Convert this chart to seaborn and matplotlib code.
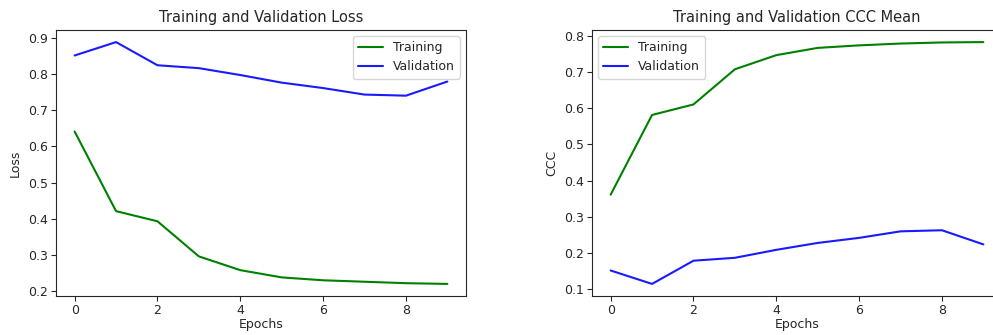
import pandas as pd
import seaborn as sns
import matplotlib.pyplot as plt

sns.set_style("ticks")
plt.rcParams["font.family"] = ["DejaVu Sans"]
plt.rcParams["font.size"] = 8

epochs = list(range(10))
loss_train = [0.641, 0.421, 0.393, 0.296, 0.258, 0.238, 0.230, 0.226, 0.222, 0.220]
loss_val = [0.851, 0.888, 0.824, 0.816, 0.797, 0.776, 0.761, 0.743, 0.740, 0.779]
ccc_train = [0.361, 0.581, 0.610, 0.707, 0.746, 0.766, 0.773, 0.778, 0.781, 0.782]
ccc_val = [0.152, 0.115, 0.179, 0.187, 0.209, 0.228, 0.242, 0.260, 0.263, 0.224]

palette = {"Training": "green", "Validation": "#1a1aff"}


def long_df(train, val):
    return pd.DataFrame({
        "epoch": epochs + epochs,
        "value": train + val,
        "split": ["Training"] * len(train) + ["Validation"] * len(val),
    })


W, H = 993, 335
fig = plt.figure(figsize=(W / 100, H / 100), dpi=100)
ax1 = fig.add_axes([56 / W, 39 / H, 410 / W, 266 / H])
ax2 = fig.add_axes([592 / W, 39 / H, 410 / W, 266 / H])

sns.lineplot(long_df(loss_train, loss_val), x="epoch", y="value", hue="split",
             palette=palette, linewidth=1.5, ax=ax1)
ax1.set(title="Training and Validation Loss", xlabel="Epochs", ylabel="Loss")
ax1.legend(loc="upper right", fontsize=9)

sns.lineplot(long_df(ccc_train, ccc_val), x="epoch", y="value", hue="split",
             palette=palette, linewidth=1.5, ax=ax2)
ax2.set(title="Training and Validation CCC Mean", xlabel="Epochs", ylabel="CCC")
ax2.legend(loc="upper left", fontsize=9)

for ax in (ax1, ax2):
    ax.set_xticks([0, 2, 4, 6, 8])
    ax.title.set_fontsize(10.5)
    ax.tick_params(labelsize=9, pad=2.5)
    ax.xaxis.label.set_fontsize(9)
    ax.yaxis.label.set_fontsize(9)
    ax.xaxis.labelpad = 0.5

fig.savefig("out.png", dpi=100)
